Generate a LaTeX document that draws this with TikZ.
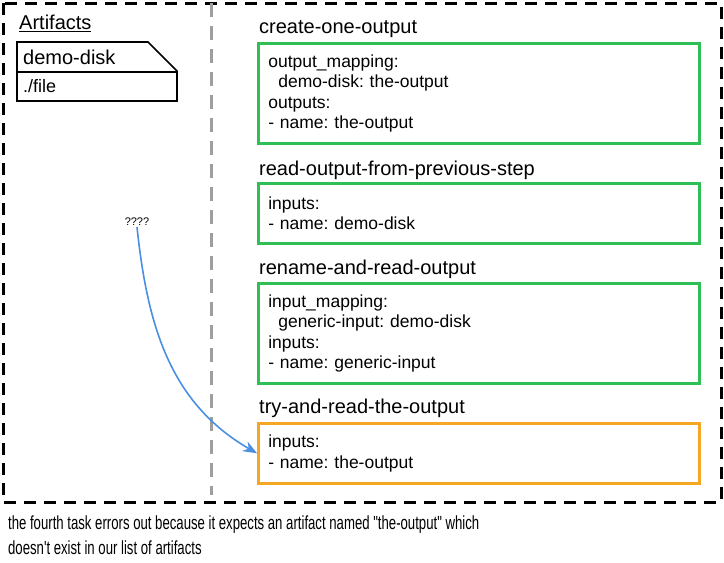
\documentclass[tikz,border=0pt]{standalone}
\usepackage{fontspec}
\setmainfont{Liberation Sans}
\newfontfamily\notfont{Liberation Sans}[Ligatures=TeXOff]
\usetikzlibrary{arrows.meta}
\definecolor{gorevYesil}{HTML}{2FBF55}
\definecolor{turuncu}{HTML}{F5A623}
\definecolor{okMavi}{HTML}{4A90E2}
\definecolor{ortaGri}{HTML}{9E9E9E}
\tikzset{
  gorev/.style={draw=gorevYesil,line width=2.6pt,anchor=north west,minimum width=441pt,
    text width=421pt,inner xsep=10pt,inner ysep=0pt,align=left,
    font=\fontsize{17.5}{20.5}\selectfont},
  baslik/.style={anchor=west,inner sep=0pt,font=\fontsize{20}{22}\selectfont}
}
\frenchspacing
\begin{document}
\begin{tikzpicture}[x=1pt,y=-1pt]
\useasboundingbox (0,0) rectangle (724,563);
\draw[line width=3pt,dash pattern=on 12pt off 8pt] (3,3) rectangle (721,502);
\draw[ortaGri,line width=3pt,dash pattern=on 14pt off 9pt] (211,3)--(211,495);
\node[baslik] (artTitle) at (19,23) {\underline{Artifacts}};
\draw[line width=1.6pt] (17,42)--(148,42)--(177,71)--(177,101)--(17,101)--cycle;
\draw[line width=1.6pt] (17,72)--(177,72);
\node[baslik] (demoDisk) at (23,57) {demo-disk};
\node[baslik,font=\fontsize{18}{20}\selectfont] (artFile) at (23,86) {./file};
\node[gorev,minimum height=100pt] (g1) at (257,42) {output\_mapping:\\
  \hspace*{10pt}demo-disk: the-output\\ outputs:\\ - name: the-output};
\node[gorev,minimum height=60pt] (g2) at (257,182) {inputs:\\ - name: demo-disk};
\node[gorev,minimum height=100pt] (g3) at (257,282) {input\_mapping:\\
  \hspace*{10pt}generic-input: demo-disk\\ inputs:\\ - name: generic-input};
\node[gorev,draw=turuncu,minimum height=60pt] (g4) at (257,422) {inputs:\\ - name: the-output};
\node[baslik] (b1) at (259,29) {create-one-output};
\node[baslik] (b2) at (259,170) {read-output-from-previous-step};
\node[baslik] (b3) at (259,269) {rename-and-read-output};
\node[baslik] (b4) at (259,408) {try-and-read-the-output};
\node[font=\fontsize{11}{12}\selectfont,inner sep=1pt] (soru) at (137,222) {????};
\draw[okMavi,line width=1.6pt,-{Stealth[length=14pt,width=11pt]}] (soru.south) to[out=-84,in=150] (g4.west);
\node[anchor=west,align=left,inner sep=0pt,font=\notfont\fontsize{19}{25}\selectfont,xscale=0.693] (not) at (8,535.5)
  {the fourth task errors out because it expects an artifact named "the-output" which\\
  doesn't exist in our list of artifacts};
\end{tikzpicture}
\end{document}
